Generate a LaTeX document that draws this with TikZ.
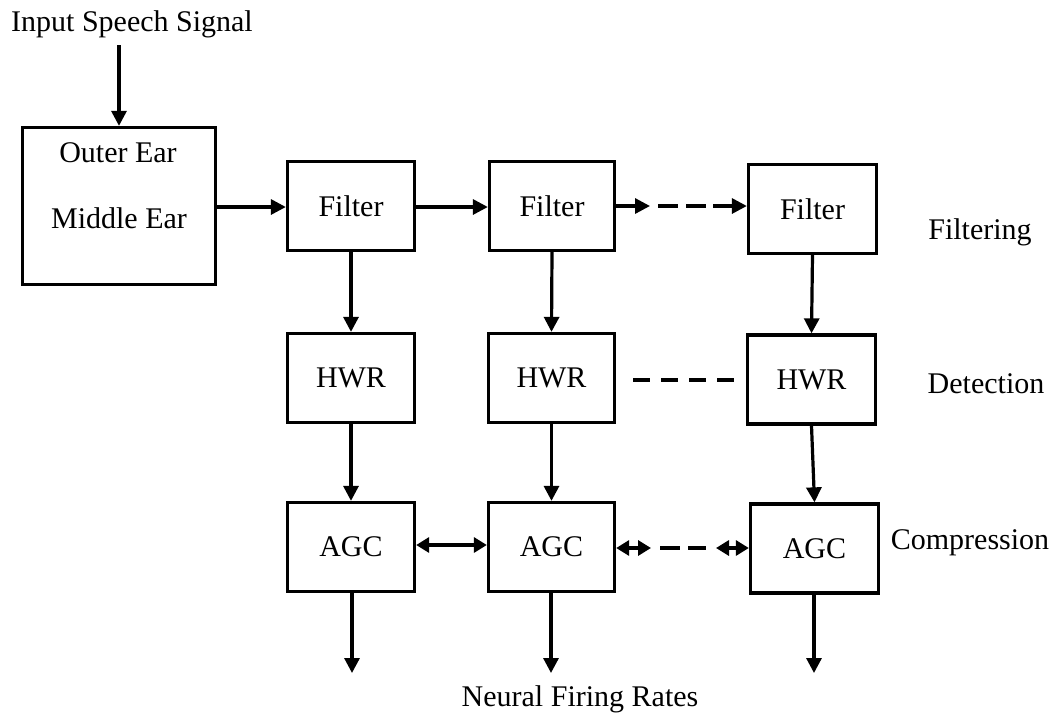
\documentclass[tikz,border=0pt]{standalone}
\usepackage{fontspec}
\setmainfont{Liberation Serif}
\usetikzlibrary{arrows.meta}
\begin{document}
\begin{tikzpicture}[x=1pt,y=-1pt,
  txt/.style={font=\fontsize{30}{36}\selectfont},
  box/.style={draw, line width=3.3pt, minimum width=127pt, minimum height=89pt, inner sep=0pt, txt},
  lbl/.style={anchor=base, inner sep=0pt, txt},
  link/.style={line width=3.2pt},
  tip/.style={link, -{Triangle[length=15pt,width=15pt]}},
  both/.style={link, {Triangle[length=13pt,width=15pt]}-{Triangle[length=13pt,width=15pt]}},
  dashrow/.style={link, dash pattern=on 17pt off 11pt},
  dashfilt/.style={link, dash pattern=on 20pt off 8pt}]
\useasboundingbox (0,0) rectangle (1058,713);

% input and outer/middle ear stage
\node[lbl] (insig) at (132,31) {Input Speech Signal};
\node[draw, line width=3.3pt, minimum width=193pt, minimum height=157pt, inner sep=0pt] (OE) at (119,206) {};
\node[lbl] (oe1) at (118,162) {Outer Ear};
\node[lbl] (oe2) at (119,228) {Middle Ear};
\coordinate (src) at (119,45);

% filter bank
\node[box] (F1) at (351,206) {Filter};
\node[box, minimum width=125pt] (F2) at (552,206) {Filter};
\node[box, minimum width=128pt] (F3) at (812.5,209) {Filter};

% half-wave rectifiers
\node[box] (H1) at (351,378) {HWR};
\node[box, minimum width=126pt] (H2) at (551.5,378) {HWR};
\node[box, minimum width=128pt] (H3) at (811.5,379.5) {HWR};

% automatic gain control
\node[box] (A1) at (351,547) {AGC};
\node[box, minimum width=126pt] (A2) at (551.5,547) {AGC};
\node[box, minimum width=128pt] (A3) at (814.5,548.5) {AGC};

% stage labels
\node[lbl] (lf) at (980,239) {Filtering};
\node[lbl] (ld) at (986,393) {Detection};
\node[lbl] (lc) at (970,549) {Compression};
\node[lbl] (lo) at (580,706) {Neural Firing Rates};

% signal path into the filter bank
\draw[tip] (src) -- (OE.north);
\draw[tip] (OE.east |- 0,207) -- (F1.west |- 0,207);
\draw[tip] (F1.east |- 0,207) -- (F2.west |- 0,207);
\coordinate (fa) at (650,206);
\coordinate (fb) at (658,206);
\coordinate (fc) at (706,206);
\coordinate (fd) at (713,206);
\draw[tip] (F2.east |- fa) -- (fa);
\draw[dashfilt] (fb) -- (fc);
\draw[tip] (fd) -- (F3.west |- fd);

% vertical flow
\draw[tip] (F1.south) -- (H1.north);
\draw[tip] (F2.south) -- (H2.north);
\draw[tip] (F3.south) -- (H3.north);
\draw[tip] (H1.south) -- (A1.north);
\draw[tip] (H2.south) -- (A2.north);
\draw[tip] (H3.south) -- (A3.north);

% detection row link
\coordinate (ha) at (633,380);
\coordinate (hb) at (738,380);
\draw[dashrow] (ha) -- (hb);

% coupling between AGC channels
\draw[both] (A1.east |- 0,545) -- (A2.west |- 0,545);
\coordinate (aa) at (651,548);
\coordinate (ab) at (660,548);
\coordinate (ac) at (706,548);
\coordinate (ad) at (716,548);
\draw[both] (A2.east |- aa) -- (aa);
\draw[dashfilt] (ab) -- (ac);
\draw[both] (ad) -- (A3.west |- ad);

% outputs
\coordinate (o1) at (352,673);
\coordinate (o2) at (551,673);
\coordinate (o3) at (814,673);
\draw[tip] (A1.south -| o1) -- (o1);
\draw[tip] (A2.south -| o2) -- (o2);
\draw[tip] (A3.south -| o3) -- (o3);
\end{tikzpicture}
\end{document}
